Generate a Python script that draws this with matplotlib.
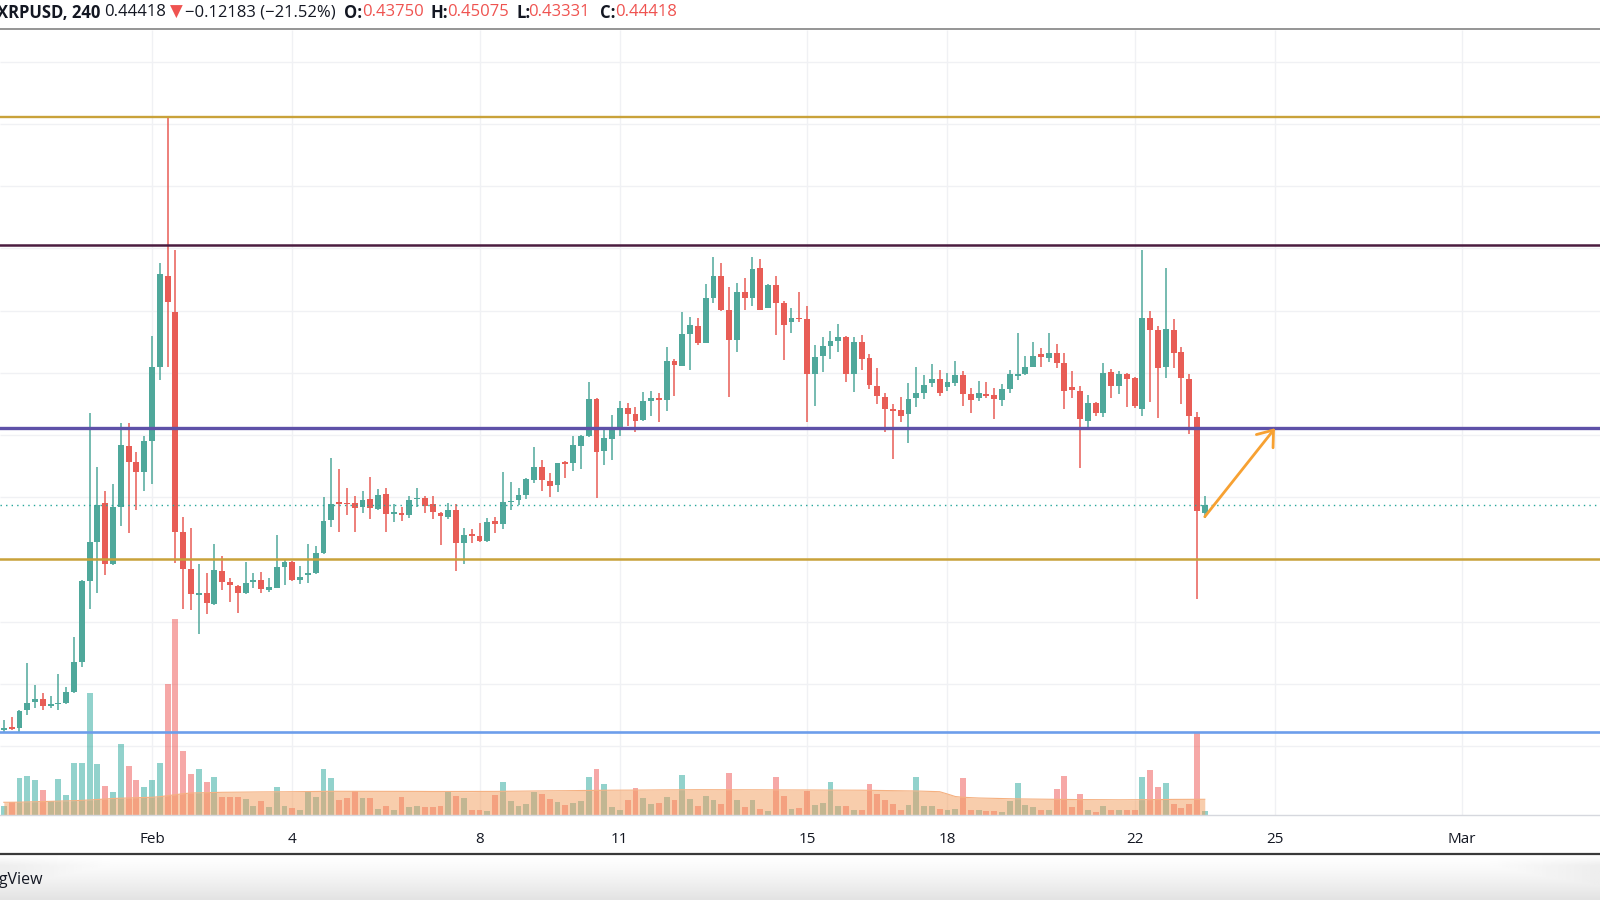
import matplotlib
matplotlib.use("Agg")
import matplotlib.pyplot as plt
import matplotlib.dates as mdates
from matplotlib.lines import Line2D
import numpy as np
import pandas as pd

plt.rcParams["font.family"] = ["Open Sans", "DejaVu Sans"]

# ---- data (4h candles, first one 2021-01-28 20:00) ------------------------
START = "2021-01-28 20:00"

OPEN = [
    0.2629, 0.2656, 0.2642, 0.2790, 0.2854, 0.2878, 0.2825, 0.2838, 0.2843, 0.2932,
    0.3173, 0.3827, 0.4143, 0.4451, 0.3961, 0.4419, 0.4912, 0.4786, 0.4706,
    0.4955, 0.5550, 0.6282, 0.5992, 0.4218, 0.3923, 0.3712, 0.3728, 0.3642, 0.3910,
    0.3816, 0.3787, 0.3728, 0.3822, 0.3835, 0.3755, 0.3773, 0.3942, 0.3982, 0.3835,
    0.3875, 0.3889, 0.4049, 0.4317, 0.4459, 0.4457, 0.4457, 0.4419, 0.4484, 0.4403,
    0.4526, 0.4366, 0.4371, 0.4358, 0.4484, 0.4492, 0.4443, 0.4376, 0.4344, 0.4398,
    0.4130, 0.4205, 0.4189, 0.4149, 0.4312, 0.4285, 0.4462, 0.4478, 0.4518, 0.4639,
    0.4746, 0.4631, 0.4599, 0.4781, 0.4773, 0.4912, 0.4995, 0.5288, 0.4875, 0.4969,
    0.5068, 0.5215, 0.5167, 0.5121, 0.5274, 0.5296, 0.5282, 0.5596, 0.5558, 0.5813,
    0.5880, 0.5743, 0.6100, 0.6282, 0.6006, 0.5765, 0.6148, 0.6100, 0.6346, 0.6025,
    0.6207, 0.6059, 0.5907, 0.5944, 0.5933, 0.5491, 0.5636, 0.5716, 0.5759, 0.5786,
    0.5491, 0.5751, 0.5617, 0.5397, 0.5309, 0.5210, 0.5202, 0.5167, 0.5296, 0.5336,
    0.5422, 0.5448, 0.5384, 0.5416, 0.5483, 0.5328, 0.5301, 0.5328, 0.5322, 0.5282,
    0.5371, 0.5478, 0.5489, 0.5550, 0.5649, 0.5617, 0.5657, 0.5582, 0.5384, 0.5357,
    0.5116, 0.5261, 0.5180, 0.5505, 0.5395, 0.5489, 0.5462, 0.5210, 0.5944, 0.5845,
    0.5545, 0.5845, 0.5665, 0.5448, 0.5148, 0.43750,
]
HIGH = [
    0.2709, 0.2731, 0.2790, 0.3170, 0.2991, 0.2929, 0.2902, 0.3079, 0.2972, 0.3379,
    0.3835, 0.5175, 0.4741, 0.4553, 0.4607, 0.5100, 0.5100, 0.4867, 0.4993,
    0.5797, 0.6386, 0.7558, 0.6488, 0.4339, 0.4256, 0.3961, 0.3889, 0.4124, 0.4028,
    0.3848, 0.3792, 0.3977, 0.3889, 0.3897, 0.3848, 0.4197, 0.3996, 0.3988, 0.3948,
    0.4124, 0.4111, 0.4505, 0.4819, 0.4725, 0.4577, 0.4513, 0.4551, 0.4660, 0.4564,
    0.4577, 0.4443, 0.4419, 0.4513, 0.4572, 0.4513, 0.4513, 0.4384, 0.4457, 0.4446,
    0.4256, 0.4242, 0.4291, 0.4331, 0.4339, 0.4701, 0.4626, 0.4577, 0.4658, 0.4907,
    0.4800, 0.4693, 0.4778, 0.4794, 0.4993, 0.5001, 0.5430, 0.5296, 0.5046, 0.5162,
    0.5274, 0.5255, 0.5223, 0.5344, 0.5357, 0.5336, 0.5706, 0.5612, 0.5992, 0.5952,
    0.5939, 0.6212, 0.6435, 0.6381, 0.6188, 0.6220, 0.6260, 0.6435, 0.6413, 0.6215,
    0.6282, 0.6081, 0.6019, 0.6148, 0.6041, 0.5724, 0.5786, 0.5837, 0.5891, 0.5797,
    0.5786, 0.5805, 0.5649, 0.5537, 0.5336, 0.5250, 0.5304, 0.5416, 0.5550, 0.5483,
    0.5572, 0.5523, 0.5502, 0.5596, 0.5515, 0.5381, 0.5435, 0.5430, 0.5381, 0.5408,
    0.5523, 0.5818, 0.5639, 0.5746, 0.5698, 0.5818, 0.5730, 0.5663, 0.5515, 0.5397,
    0.5322, 0.5263, 0.5582, 0.5529, 0.5518, 0.5502, 0.5470, 0.6488, 0.5998, 0.5880,
    0.6341, 0.5933, 0.5706, 0.5489, 0.5188, 0.45075,
]
LOW = [
    0.2616, 0.2629, 0.2602, 0.2750, 0.2803, 0.2790, 0.2809, 0.2790, 0.2838, 0.2924,
    0.3138, 0.3602, 0.3728, 0.3875, 0.3956, 0.4272, 0.4210, 0.4398, 0.4553,
    0.4607, 0.5443, 0.5550, 0.3969, 0.3602, 0.3594, 0.3398, 0.3562, 0.3634, 0.3755,
    0.3661, 0.3567, 0.3723, 0.3768, 0.3733, 0.3741, 0.3768, 0.3795, 0.3830, 0.3803,
    0.3814, 0.3883, 0.4044, 0.4264, 0.4218, 0.4358, 0.4224, 0.4376, 0.4325, 0.4398,
    0.4218, 0.4299, 0.4309, 0.4331, 0.4425, 0.4371, 0.4325, 0.4116, 0.4325, 0.3910,
    0.3961, 0.4130, 0.4138, 0.4143, 0.4216, 0.4245, 0.4398, 0.4438, 0.4484, 0.4618,
    0.4551, 0.4500, 0.4545, 0.4652, 0.4714, 0.4725, 0.4987, 0.4492, 0.4760, 0.4800,
    0.4995, 0.5073, 0.5028, 0.5116, 0.5154, 0.5108, 0.5196, 0.5314, 0.5556, 0.5523,
    0.5724, 0.5738, 0.6059, 0.6000, 0.5309, 0.5665, 0.6006, 0.6038, 0.6006, 0.6019,
    0.5805, 0.5604, 0.5818, 0.5912, 0.5103, 0.5237, 0.5505, 0.5609, 0.5671, 0.5430,
    0.5344, 0.5523, 0.5371, 0.5247, 0.5028, 0.4805, 0.5103, 0.4939, 0.5223, 0.5288,
    0.5384, 0.5317, 0.5355, 0.5395, 0.5237, 0.5180, 0.5274, 0.5301, 0.5129, 0.5234,
    0.5341, 0.5443, 0.5483, 0.5545, 0.5550, 0.5585, 0.5537, 0.5210, 0.5296, 0.4738,
    0.5041, 0.5156, 0.5143, 0.5301, 0.5330, 0.5229, 0.5215, 0.5156, 0.5269, 0.5140,
    0.5456, 0.5542, 0.5250, 0.5009, 0.3682, 0.43331,
]
CLOSE = [
    0.2648, 0.2640, 0.2782, 0.2849, 0.2876, 0.2825, 0.2835, 0.2849, 0.2932, 0.3176,
    0.3827, 0.4138, 0.4438, 0.3961, 0.4425, 0.4920, 0.4781, 0.4706, 0.4955,
    0.5550, 0.6293, 0.6073, 0.4224, 0.3923, 0.3720, 0.3728, 0.3647, 0.3915, 0.3816,
    0.3792, 0.3728, 0.3814, 0.3835, 0.3760, 0.3776, 0.3937, 0.3977, 0.3835, 0.3862,
    0.3894, 0.4049, 0.4312, 0.4446, 0.4446, 0.4449, 0.4417, 0.4478, 0.4417, 0.4518,
    0.4366, 0.4379, 0.4358, 0.4478, 0.4497, 0.4433, 0.4384, 0.4350, 0.4398, 0.4130,
    0.4197, 0.4191, 0.4149, 0.4304, 0.4285, 0.4465, 0.4473, 0.4518, 0.4647, 0.4746,
    0.4639, 0.4593, 0.4773, 0.4768, 0.4920, 0.4993, 0.5288, 0.4867, 0.4974, 0.5068,
    0.5215, 0.5167, 0.5116, 0.5274, 0.5296, 0.5282, 0.5596, 0.5564, 0.5813, 0.5885,
    0.5743, 0.6100, 0.6282, 0.6006, 0.5765, 0.6153, 0.6105, 0.6333, 0.6006, 0.6207,
    0.6059, 0.5885, 0.5944, 0.5936, 0.5491, 0.5631, 0.5716, 0.5757, 0.5786, 0.5491,
    0.5751, 0.5612, 0.5403, 0.5314, 0.5210, 0.5196, 0.5156, 0.5290, 0.5341, 0.5403,
    0.5448, 0.5336, 0.5424, 0.5483, 0.5328, 0.5282, 0.5341, 0.5317, 0.5288, 0.5371,
    0.5489, 0.5489, 0.5550, 0.5639, 0.5631, 0.5663, 0.5582, 0.5357, 0.5363, 0.5127,
    0.5255, 0.5175, 0.5502, 0.5395, 0.5491, 0.5451, 0.5234, 0.5944, 0.5845, 0.5542,
    0.5850, 0.5657, 0.5456, 0.5156, 0.4390, 0.44418,
]
VOLUME = [  # millions XRP
    9.3, 13.3, 36.7, 38.7, 35.0, 24.7, 14.0, 36.0, 20.0, 52.3,
    51.7, 122.0, 51.0, 29.3, 23.3, 71.0, 49.0, 35.0, 28.0,
    35.0, 52.3, 131.0, 196.0, 63.7, 41.0, 45.7, 32.7, 38.3, 18.0,
    17.7, 18.0, 16.0, 8.7, 14.0, 8.0, 28.0, 9.3, 7.0, 5.0,
    24.0, 18.0, 45.7, 37.0, 14.7, 17.0, 24.0, 16.7, 16.7, 6.0,
    9.3, 5.0, 18.0, 7.7, 9.0, 8.3, 8.3, 9.0, 24.0, 19.3,
    16.7, 5.0, 5.0, 4.3, 20.0, 32.7, 14.0, 9.3, 11.3, 22.7,
    20.7, 16.0, 13.3, 10.0, 12.0, 14.0, 38.0, 45.7, 31.0, 7.7,
    5.0, 15.3, 27.0, 17.3, 11.3, 12.0, 18.0, 15.3, 39.7, 16.0,
    8.7, 19.3, 14.7, 11.3, 41.7, 14.7, 8.0, 14.7, 6.0, 4.0,
    38.3, 19.3, 6.0, 6.7, 23.7, 10.0, 12.0, 33.0, 8.7, 8.7,
    5.3, 5.3, 31.0, 21.0, 15.3, 10.7, 4.7, 10.0, 38.3, 8.7,
    8.7, 6.0, 4.7, 6.0, 37.0, 5.3, 5.3, 4.0, 4.0, 3.3,
    14.0, 31.7, 10.0, 8.0, 5.3, 5.3, 26.3, 39.0, 8.0, 21.0,
    5.3, 3.3, 9.3, 4.7, 4.7, 4.7, 5.3, 37.7, 45.0, 27.7,
    31.7, 11.3, 6.7, 11.3, 82.0, 4.0,
]
VOLUME_MA = [
    12.7, 12.7, 12.8, 13.0, 13.2, 13.4, 13.6, 13.8, 14.0, 14.3,
    14.6, 15.0, 15.5, 16.0, 16.5, 16.8, 17.0, 17.3, 17.5,
    17.7, 18.3, 19.3, 20.3, 21.3, 22.0, 22.2, 22.4, 22.6, 22.7,
    22.8, 22.9, 23.0, 23.0, 23.1, 23.1, 23.2, 23.2, 23.3, 23.4,
    23.5, 23.6, 23.6, 23.7, 23.7, 23.7, 23.7, 23.7, 23.7, 23.7,
    23.7, 23.7, 23.6, 23.6, 23.6, 23.5, 23.5, 23.5, 23.4, 23.4,
    23.4, 23.4, 23.5, 23.5, 23.6, 23.7, 23.8, 23.9, 24.0, 24.0,
    24.1, 24.2, 24.2, 24.3, 24.4, 24.5, 24.6, 24.7, 24.7, 24.8,
    24.8, 24.9, 24.9, 25.0, 25.0, 25.1, 25.1, 25.2, 25.2, 25.3,
    25.3, 25.3, 25.3, 25.3, 25.3, 25.3, 25.2, 25.2, 25.2, 25.1,
    25.1, 25.1, 25.0, 25.0, 25.0, 25.0, 24.9, 24.9, 24.9, 24.8,
    24.8, 24.8, 24.7, 24.7, 24.6, 24.5, 24.4, 24.2, 24.0, 23.8,
    23.6, 23.3, 21.0, 18.5, 17.7, 17.3, 17.0, 16.8, 16.6, 16.4,
    16.2, 16.1, 16.0, 15.9, 15.8, 15.7, 15.6, 15.6, 15.5, 15.4,
    15.4, 15.3, 15.3, 15.2, 15.2, 15.2, 15.2, 15.3, 15.4, 15.5,
    15.5, 15.6, 15.6, 15.7, 15.7, 15.7,
]

# horizontal levels drawn on the chart
LEVELS = [0.7554, 0.6526, 0.5059, 0.4002, 0.2616]
LEVEL_COLORS = ["#c9a23a", "#4b1c3f", "#5e51a8", "#c9a23a", "#6d9eeb"]
LEVEL_WIDTHS = [1.7, 1.8, 2.4, 1.8, 1.9]

TICK_DATES = ["2021-02-01", "2021-02-04", "2021-02-08", "2021-02-11", "2021-02-15",
              "2021-02-18", "2021-02-22", "2021-02-25", "2021-03-01"]
TICK_LABELS = ["Feb", "4", "8", "11", "15", "18", "22", "25", "Mar"]
GRID_PRICES = [0.25, 0.30, 0.35, 0.40, 0.45, 0.50, 0.55, 0.60, 0.65, 0.70, 0.75, 0.80]

ARROW_FROM = ("2021-02-23 12:00", 0.4344)
ARROW_TO = ("2021-02-25 00:00", 0.5055)

UP, DOWN = "#4fa89b", "#e85d56"
DARK = "#131722"
RED = "#ef5350"

# ---- figure -----------------------------------------------------------------
W, H = 1600, 900
fig = plt.figure(figsize=(16, 9), dpi=100)
fig.patch.set_facecolor("white")


def fy(px):
    return 1 - px / H


TOP, BOT = 30, 815
ax_v = fig.add_axes([0, fy(BOT), 1, (BOT - TOP) / H])
ax = fig.add_axes([0, fy(BOT), 1, (BOT - TOP) / H], sharex=ax_v)
ax.set_zorder(ax_v.get_zorder() + 1)
ax.patch.set_visible(False)

times = pd.date_range(START, periods=len(OPEN), freq="4h")
x = mdates.date2num(times.to_pydatetime())
o, h, l, c = map(np.array, (OPEN, HIGH, LOW, CLOSE))
up = c >= o
cols = np.where(up, UP, DOWN)
bar_w = 0.75 / 6

# price scale: 0.45 sits at 497.3 px, 1244 px per unit
p_top = 0.45 + (497.3 - TOP) / 1244
p_bot = 0.45 - (BOT - 497.3) / 1244
feb1 = mdates.date2num(pd.Timestamp("2021-02-01"))
px_day = 46.79
ax.set_xlim(feb1 - 152 / px_day, feb1 + (W - 152) / px_day)
ax.set_ylim(p_bot, p_top)
ax_v.set_ylim(0, BOT - TOP)

# grid (drawn in the volume axes so it stays behind everything)
ax_v.hlines(GRID_PRICES, 0, 1, transform=ax.get_yaxis_transform(),
            color="#f0f1f4", lw=1.0, zorder=0)
tick_x = mdates.date2num(pd.to_datetime(TICK_DATES).to_pydatetime())
ax_v.vlines(tick_x, 0, 1, transform=ax_v.get_xaxis_transform(),
            color="#f0f1f4", lw=1.0, zorder=0)

# volume + volume MA
vcols = np.where(up, "#26a69a", "#ef5350")
ax_v.bar(x, VOLUME, width=bar_w, color=vcols, alpha=0.5, lw=0, zorder=1)
ax_v.fill_between(x, 0, VOLUME_MA, color="#f39c5a", alpha=0.5, lw=0, zorder=2)
ax_v.plot(x, VOLUME_MA, color="#f5b080", lw=0.8, zorder=2)

# candles
ax.vlines(x, l, h, colors=cols, lw=1.1, zorder=3)
body = np.maximum(np.abs(c - o), 0.0009)
ax.bar(x, body, bottom=np.minimum(o, c), width=bar_w, color=cols, lw=0, zorder=4)

# levels + last price
for lv, lc, lw in zip(LEVELS, LEVEL_COLORS, LEVEL_WIDTHS):
    ax.axhline(lv, color=lc, lw=lw, zorder=5)
ax.axhline(CLOSE[-1], color="#26a69a", lw=1.0, ls=(0, (1, 3)), zorder=5)

ax.annotate("", xy=(mdates.date2num(pd.Timestamp(ARROW_TO[0])), ARROW_TO[1]),
            xytext=(mdates.date2num(pd.Timestamp(ARROW_FROM[0])), ARROW_FROM[1]),
            arrowprops=dict(arrowstyle="->, head_length=0.6, head_width=0.45",
                            color="#f7a132", lw=2.0, mutation_scale=17,
                            shrinkA=0, shrinkB=0),
            zorder=6)

# axes cosmetics
ax.set_xticks(tick_x)
ax.set_xticklabels(TICK_LABELS)
ax.tick_params(axis="x", length=0, pad=12, labelsize=11, labelcolor=DARK)
ax.tick_params(axis="y", left=False, labelleft=False)
for a in (ax, ax_v):
    for s in a.spines.values():
        s.set_visible(False)
ax_v.tick_params(left=False, labelleft=False, bottom=False, labelbottom=False)
ax.spines["bottom"].set_visible(True)
ax.spines["bottom"].set_color("#d6d8de")
ax.spines["bottom"].set_linewidth(1.0)

# frame lines of the screenshot
fig.add_artist(Line2D([0, 1], [fy(29), fy(29)], color="#8c8c8c", lw=1.3))
fig.add_artist(Line2D([0, 1], [fy(853.5), fy(853.5)], color="#3a3a3a", lw=1.6))

# soft shadow at the very bottom
sh = fig.add_axes([0, 0, 1, fy(855)])
yy = np.linspace(0, 1, 45)[:, None]
xx = np.linspace(0, 1, 400)[None, :]
edge = np.clip(1 - np.minimum(xx, 1 - xx) / 0.09, 0, 1)
shade = np.maximum(0.11 * yy ** 1.3, 0.07 * edge * np.clip(yy * 4, 0, 1))
sh.imshow(1 - shade, cmap="gray", vmin=0, vmax=1, aspect="auto",
          extent=(0, 1, 0, 1), origin="upper")
sh.axis("off")

# header line
hdr_y = fy(12.5)
header = [
    (-3, "XRPUSD, 240", DARK, "bold"),
    (104, "0.44418", DARK, "normal"),
    (170, "\u25bc", RED, "normal"),
    (185, "\u22120.12183 (\u221221.52%)", DARK, "normal"),
    (344, "O:", DARK, "bold"),
    (362, "0.43750", RED, "normal"),
    (431, "H:", DARK, "bold"),
    (447, "0.45075", RED, "normal"),
    (516, "L:", DARK, "bold"),
    (528, "0.43331", RED, "normal"),
    (600, "C:", DARK, "bold"),
    (615, "0.44418", RED, "normal"),
]
for px, txt, col, wt in header:
    fig.text(px / W, hdr_y, txt, color=col, fontweight=wt, fontsize=12,
             ha="left", va="center")

fig.text(43 / W, fy(880), "TradingView", color=DARK, fontsize=11.5,
         ha="right", va="center", zorder=10)

fig.savefig("out.png", dpi=100, facecolor="white")
